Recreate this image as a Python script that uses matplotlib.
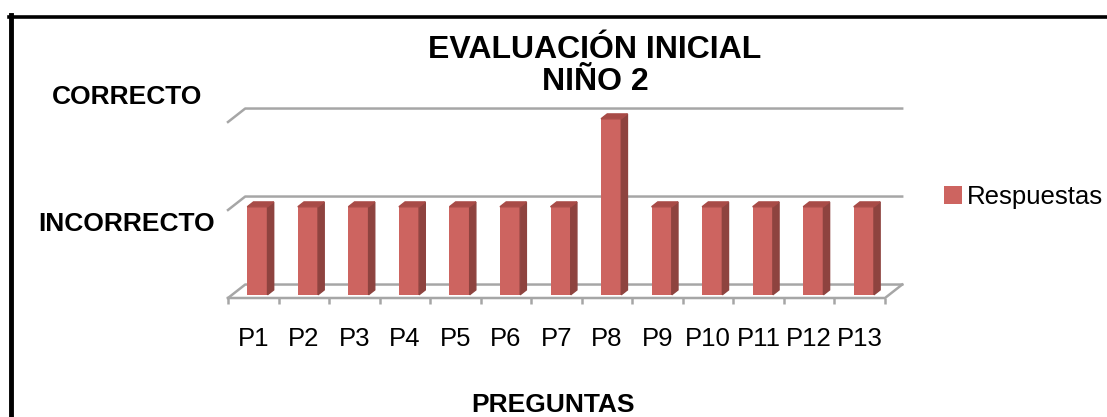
import matplotlib.pyplot as plt
from matplotlib.patches import Polygon
from matplotlib.lines import Line2D

plt.rcParams['font.family'] = ['Liberation Sans', 'DejaVu Sans']

preguntas = ['P1', 'P2', 'P3', 'P4', 'P5', 'P6', 'P7', 'P8', 'P9', 'P10', 'P11', 'P12', 'P13']
respuestas = [1, 1, 1, 1, 1, 1, 1, 2, 1, 1, 1, 1, 1]
niveles = [0, 1, 2]
nombres_nivel = ['', 'INCORRECTO', 'CORRECTO']

W, H = 1107, 417
fig = plt.figure(figsize=(W / 100, H / 100), dpi=100)
ax = fig.add_axes([228 / W, (H - 298) / H, (885 - 228) / W, (298 - 122) / H])
n = len(preguntas)
ax.set_xlim(0, n)
ax.set_ylim(0, 2)
for s in ax.spines.values():
    s.set_visible(False)
ax.patch.set_alpha(0)

# profundidad (pared del fondo)
bx, by = 0.34, 0.153
gris = '#A6A6A6'
for v in niveles:
    ax.add_line(Line2D([0, bx, n + bx], [v, v + by, v + by], color=gris, lw=1.8, clip_on=False))
ax.add_line(Line2D([0, n, n + bx], [0, 0, by], color=gris, lw=1.8, clip_on=False))

# barras 3D
cara, lado, tapa = '#CD6460', '#8E433F', '#A84B47'
fx, fy = 0.24 * bx, 0.24 * by
sx, sy = 0.36 * bx, 0.36 * by
ancho = 0.4
xs = [i + 0.5 + fx for i in range(n)]
barras = ax.bar(xs, respuestas, width=ancho, bottom=fy, color=cara, clip_on=False, zorder=3)
for x, v in zip(xs, respuestas):
    x0, x1 = x - ancho / 2, x + ancho / 2
    top = v + fy
    ax.add_patch(Polygon([(x1, fy), (x1 + sx, fy + sy), (x1 + sx, top + sy), (x1, top)],
                         color=lado, clip_on=False, zorder=3))
    ax.add_patch(Polygon([(x0, top), (x0 + sx, top + sy), (x1 + sx, top + sy), (x1, top)],
                         color=tapa, clip_on=False, zorder=3))

ax.set_xticks([i + 0.5 for i in range(n)])
ax.set_xticklabels(preguntas, fontsize=18.5)
ax.set_xticks(range(n + 1), minor=True)
ax.tick_params(axis='x', which='major', length=0, pad=21)
ax.tick_params(axis='x', which='minor', length=4.5, width=1.8, color=gris)
ax.set_yticks([])

# etiquetas del eje vertical
fig.text(127 / W, 1 - 97 / H, nombres_nivel[2], ha='center', va='center', fontsize=19, fontweight='bold')
fig.text(127 / W, 1 - 224 / H, nombres_nivel[1], ha='center', va='center', fontsize=19, fontweight='bold')

fig.text(595 / W, 1 - 66 / H, 'EVALUACIÓN INICIAL\nNIÑO 2', ha='center', va='center',
         fontsize=23, fontweight='bold', linespacing=1.1)
fig.text(553 / W, 1 - 405 / H, 'PREGUNTAS', ha='center', va='center', fontsize=19, fontweight='bold')

ax.legend([barras], ['Respuestas'], loc='center left', bbox_to_anchor=(944 / W, 1 - 197 / H),
          bbox_transform=fig.transFigure, frameon=False, fontsize=18.5,
          handlelength=0.7, handleheight=0.7, handletextpad=0.2, borderpad=0, borderaxespad=0)

# marco
fig.add_artist(Line2D([11 / W, 11 / W], [0, 1 - 15 / H], color='black', lw=3.5))
fig.add_artist(Line2D([9 / W, 1], [1 - 16.5 / H, 1 - 16.5 / H], color='black', lw=2.6))

fig.savefig('out.png', dpi=100)
